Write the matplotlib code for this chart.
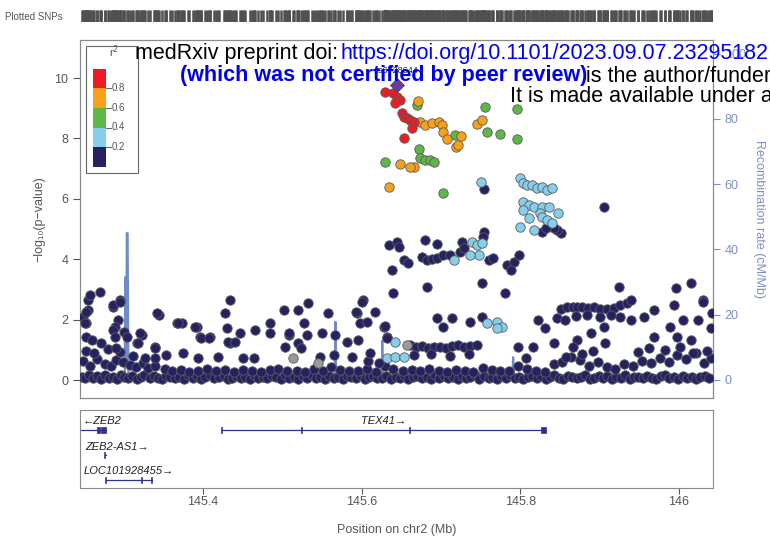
import matplotlib
matplotlib.use('Agg')
import matplotlib.pyplot as plt
from matplotlib.patches import Rectangle

plt.rcParams['font.family'] = ['Liberation Sans', 'DejaVu Sans']

# ---- data (position in Mb, -log10 p) ----
lead_pos, lead_logp, lead_name = 145.644, 9.78, 'rs6728644'

red_pos = [145.630, 145.640, 145.645, 145.648, 145.642, 145.651, 145.653, 145.657,
           145.661, 145.666, 145.664, 145.653]
red_logp = [9.55, 9.49, 9.38, 9.27, 9.16, 8.83, 8.72, 8.67, 8.61, 8.55, 8.33, 8.00]

orange_pos = [145.671, 145.674, 145.680, 145.689, 145.697, 145.701, 145.703, 145.708,
              145.719, 145.722, 145.725, 145.745, 145.752, 145.649, 145.666, 145.661,
              145.634]
orange_logp = [9.25, 8.55, 8.44, 8.50, 8.55, 8.44, 8.22, 7.97, 7.71, 7.78, 8.08, 8.48,
               8.61, 7.15, 7.04, 7.06, 6.40]

green_pos = [145.670, 145.756, 145.796, 145.758, 145.775, 145.796, 145.718, 145.672,
             145.674, 145.680, 145.686, 145.691, 145.630, 145.703]
green_logp = [9.11, 9.05, 8.96, 8.22, 8.15, 7.97, 8.11, 7.64, 7.34, 7.28, 7.28, 7.23,
              7.23, 6.18]

lblue_pos = [145.750, 145.800, 145.804, 145.809, 145.815, 145.821, 145.828, 145.834,
             145.840, 145.804, 145.811, 145.817, 145.828, 145.836, 145.804, 145.825,
             145.848, 145.811, 145.828, 145.834, 145.840, 145.800, 145.817,
             145.739, 145.745, 145.752, 145.748, 145.737, 145.716,
             145.642, 145.632, 145.642, 145.653, 145.758, 145.771, 145.777, 145.771]
lblue_logp = [6.57, 6.68, 6.51, 6.46, 6.46, 6.35, 6.40, 6.29, 6.35, 5.90, 5.79, 5.74,
              5.74, 5.74, 5.63, 5.52, 5.54, 5.35, 5.41, 5.30, 5.19, 5.08, 4.97,
              4.58, 4.47, 4.53, 4.14, 4.14, 3.97,
              1.27, 0.72, 0.77, 0.75, 1.88, 1.93, 1.76, 1.71]

grey_pos = [145.514, 145.657, 145.545]
grey_logp = [0.72, 1.16, 0.56]

# scattered navy SNPs (r2 < 0.2)
navy_pos = [145.754, 145.754, 145.753, 145.851, 145.846, 145.842, 145.828, 145.832,
            145.905, 145.634, 145.645, 145.647, 145.680, 145.695, 145.727, 145.653,
            145.659, 145.638, 145.676, 145.682, 145.689, 145.695, 145.703, 145.712,
            145.724, 145.729, 145.760, 145.766, 145.783, 145.792, 145.798, 145.788,
            145.752, 145.682, 145.640, 145.781, 145.924, 145.996, 146.015, 146.031,
            145.249, 145.255, 145.258, 145.270, 145.255, 145.253, 145.287, 145.295,
            145.293, 145.289, 145.323, 145.317, 145.344, 145.340, 145.367, 145.373,
            145.392, 145.396, 145.409, 145.428, 145.434, 145.430, 145.434, 145.447,
            145.466, 145.485, 145.485, 145.502, 145.504, 145.520, 145.508, 145.520,
            145.533, 145.527, 145.531, 145.550, 145.558, 145.567, 145.565, 145.594,
            145.602, 145.598, 145.607, 145.617, 145.596, 145.611, 145.628, 145.632,
            145.253, 145.251, 145.253, 145.260, 145.272, 145.287, 145.295, 145.287,
            145.300, 145.304, 145.289, 145.291, 145.321, 145.318, 145.340, 145.342,
            145.369, 145.390, 145.398, 145.407, 145.394, 145.375, 145.354, 145.340,
            145.419, 145.432, 145.441, 145.451, 145.464, 145.508, 145.601, 145.593,
            145.630, 145.695, 145.703, 145.714, 145.737, 145.752, 145.582, 145.632,
            145.523, 145.547, 145.588,
            145.926, 145.939, 145.956, 145.968, 145.989, 145.994, 146.005, 146.024,
            146.031, 146.042, 145.968, 145.998, 146.015, 146.040, 145.905, 145.907,
            145.889, 145.871, 145.867, 145.858, 145.843, 145.822, 145.831, 145.807,
            145.797, 145.816,
            145.851, 145.859, 145.866, 145.872, 145.878, 145.885, 145.893, 145.901,
            145.910, 145.918, 145.926, 145.935, 145.846, 145.856, 145.870, 145.884,
            145.900, 145.915, 145.940,
            145.661, 145.669, 145.676, 145.684, 145.691, 145.699, 145.707, 145.714,
            145.722, 145.729, 145.737, 145.745, 145.666, 145.688, 145.712, 145.735]
navy_logp = [6.31, 4.91, 4.75, 4.86, 4.97, 5.02, 4.91, 5.02,
             5.74, 4.47, 4.58, 4.41, 4.64, 4.50, 4.58, 3.97,
             3.86, 3.64, 4.08, 3.97, 4.00, 4.03, 4.14, 4.14,
             4.25, 4.36, 3.97, 4.03, 3.81, 3.92, 4.14, 3.64,
             3.20, 3.09, 2.87, 2.87, 3.09, 3.04, 3.20, 2.65,
             2.10, 2.65, 2.81, 2.92, 2.32, 1.88, 2.43, 2.65,
             1.99, 1.76, 1.49, 1.22, 2.15, 1.10, 1.88, 1.88,
             1.76, 1.43, 1.43, 2.21, 2.65, 1.71, 1.22, 1.55,
             1.66, 1.88, 1.55, 2.32, 1.10, 2.32, 1.49, 1.22,
             2.54, 1.88, 1.49, 1.55, 2.21, 1.49, 0.83, 2.21,
             2.65, 1.88, 1.93, 2.26, 1.32, 0.88, 1.76, 1.43,
             2.26, 1.88, 1.43, 1.32, 1.22, 2.48, 2.59, 1.66,
             1.60, 1.43, 1.43, 1.05, 1.55, 1.22, 1.05, 2.21,
             1.88, 1.76, 1.38, 1.38, 0.72, 0.88, 0.83, 0.72,
             0.77, 1.27, 1.27, 0.72, 0.72, 1.55, 2.59, 2.26,
             1.80, 2.04, 1.76, 2.04, 1.93, 2.10, 1.27, 1.38,
             1.05, 0.77, 0.77,
             2.10, 1.99, 2.10, 2.32, 1.76, 2.48, 1.99, 1.99,
             2.58, 2.21, 1.43, 1.43, 1.32, 1.71, 1.76, 1.22,
             1.55, 1.32, 1.10, 0.77, 1.22, 1.99, 1.71, 0.72,
             1.10, 1.10,
             2.36, 2.42, 2.43, 2.43, 2.42, 2.40, 2.42, 2.36,
             2.36, 2.40, 2.47, 2.55, 2.05, 2.00, 2.12, 2.15,
             2.10, 2.15, 2.65,
             1.16, 1.09, 1.12, 1.06, 1.09, 1.09, 1.06, 1.12,
             1.16, 1.09, 1.12, 1.16, 0.82, 0.85, 0.80, 0.86]

# dense band of weak SNPs along the bottom
base_pos = [145.247, 145.251, 145.256, 145.262, 145.266, 145.271, 145.277, 145.281,
            145.286, 145.292, 145.297, 145.301, 145.306, 145.311, 145.317, 145.322,
            145.326, 145.333, 145.338, 145.343, 145.349, 145.354, 145.359, 145.365,
            145.370, 145.376, 145.381, 145.387, 145.392, 145.398, 145.403, 145.409,
            145.414, 145.420, 145.426, 145.431, 145.437, 145.442, 145.448, 145.453,
            145.459, 145.464, 145.470, 145.476, 145.481, 145.487, 145.492, 145.498,
            145.503, 145.509, 145.515, 145.520, 145.526, 145.531, 145.537, 145.542,
            145.548, 145.554, 145.559, 145.565, 145.570, 145.576, 145.581, 145.587,
            145.593, 145.598, 145.604, 145.609, 145.615, 145.620, 145.626, 145.631,
            145.637, 145.643, 145.648, 145.654, 145.659, 145.665, 145.670, 145.676,
            145.682, 145.687, 145.693, 145.698, 145.704, 145.709, 145.715, 145.721,
            145.726, 145.732, 145.737, 145.743, 145.748, 145.754, 145.760, 145.765,
            145.771, 145.776, 145.782, 145.787, 145.793, 145.799, 145.804, 145.810,
            145.815, 145.821, 145.826, 145.832, 145.838, 145.843, 145.849, 145.854,
            145.860, 145.865, 145.871, 145.877, 145.882, 145.888, 145.893, 145.899,
            145.904, 145.910, 145.916, 145.921, 145.927, 145.932, 145.938, 145.943,
            145.949, 145.955, 145.960, 145.966, 145.971, 145.977, 145.982, 145.988,
            145.994, 145.999, 146.005, 146.010, 146.016, 146.021, 146.027, 146.033,
            146.038]
base_logp = [0.10, 0.05, 0.18, 0.08, 0.12, 0.03, 0.15, 0.07, 0.11, 0.04, 0.16, 0.09,
             0.06, 0.13, 0.02, 0.10, 0.17, 0.05, 0.12, 0.08, 0.03, 0.14, 0.09, 0.06,
             0.11, 0.02, 0.15, 0.07, 0.12, 0.04, 0.10, 0.16, 0.05, 0.09, 0.13, 0.03,
             0.08, 0.14, 0.06, 0.11, 0.02, 0.17, 0.07, 0.10, 0.05, 0.13, 0.09, 0.04,
             0.15, 0.06, 0.11, 0.03, 0.12, 0.08, 0.16, 0.05, 0.10, 0.02, 0.14, 0.07,
             0.11, 0.04, 0.13, 0.09, 0.06, 0.15, 0.03, 0.10, 0.12, 0.05, 0.08, 0.14,
             0.02, 0.11, 0.07, 0.16, 0.04, 0.09, 0.13, 0.06, 0.10, 0.03, 0.15, 0.08,
             0.12, 0.05, 0.11, 0.02, 0.14, 0.07, 0.09, 0.16, 0.04, 0.12, 0.06, 0.10,
             0.03, 0.13, 0.08, 0.15, 0.05, 0.11, 0.02, 0.09, 0.14, 0.06, 0.12, 0.04,
             0.10, 0.16, 0.07, 0.03, 0.13, 0.09, 0.05, 0.11, 0.15, 0.02, 0.08, 0.12,
             0.06, 0.14, 0.04, 0.10, 0.07, 0.16, 0.03, 0.11, 0.09, 0.05, 0.13, 0.08,
             0.02, 0.12, 0.15, 0.06, 0.10, 0.04, 0.14, 0.07, 0.11, 0.03, 0.09, 0.13,
             0.05]

mid_pos = [145.249, 145.258, 145.267, 145.276, 145.284, 145.291, 145.299, 145.308,
           145.315, 145.324, 145.331, 145.340, 145.352, 145.361, 145.372, 145.383,
           145.394, 145.405, 145.416, 145.428, 145.439, 145.450, 145.462, 145.473,
           145.484, 145.495, 145.506, 145.518, 145.529, 145.540, 145.551, 145.562,
           145.573, 145.584, 145.596, 145.607, 145.618, 145.629, 145.640, 145.652,
           145.663, 145.674, 145.685, 145.697, 145.708, 145.719, 145.730, 145.741,
           145.753, 145.764, 145.775, 145.786, 145.797, 145.808, 145.820, 145.831,
           145.842, 145.853, 145.864, 145.875, 145.887, 145.898, 145.909, 145.920,
           145.931, 145.942, 145.954, 145.965, 145.976, 145.987, 145.998, 146.009,
           146.021, 146.032, 146.041,
           145.252, 145.263, 145.280, 145.296, 145.312, 145.327, 145.878, 145.892,
           145.948, 145.962, 145.983, 146.002, 146.018, 146.036, 145.608, 145.622]
mid_logp = [0.62, 0.45, 0.70, 0.52, 0.48, 0.66, 0.58, 0.50, 0.44, 0.55, 0.40, 0.47,
            0.35, 0.30, 0.33, 0.28, 0.31, 0.36, 0.29, 0.32, 0.27, 0.34, 0.30, 0.28,
            0.33, 0.35, 0.29, 0.31, 0.27, 0.36, 0.30, 0.42, 0.33, 0.29, 0.31, 0.38,
            0.28, 0.45, 0.35, 0.30, 0.33, 0.29, 0.36, 0.31, 0.28, 0.34, 0.30, 0.27,
            0.40, 0.33, 0.29, 0.31, 0.45, 0.36, 0.30, 0.28, 0.52, 0.61, 0.75, 0.66,
            0.48, 0.58, 0.44, 0.36, 0.52, 0.47, 0.63, 0.55, 0.72, 0.60, 0.82, 0.68,
            0.90, 0.57, 0.74,
            0.95, 0.88, 1.02, 0.92, 0.81, 0.74, 0.86, 0.95, 0.92, 1.05, 0.98, 1.10,
            0.88, 0.96, 0.62, 0.55]

# recombination rate (cM/Mb)
rec_pos = [145.245, 145.262, 145.280, 145.295, 145.3015, 145.302, 145.3025, 145.3035,
           145.304, 145.305, 145.306, 145.330, 145.380, 145.430, 145.480, 145.530,
           145.566, 145.567, 145.568, 145.600, 145.6255, 145.626, 145.627, 145.660,
           145.720, 145.760, 145.790, 145.791, 145.792, 145.830, 145.880, 145.940,
           145.990, 146.043]
rec_rate = [0.5, 0.8, 0.4, 1.0, 1.5, 31.5, 4.0, 4.0, 45.0, 45.0, 1.0, 0.5, 0.3, 0.6,
            0.4, 0.5, 0.6, 17.8, 0.6, 0.4, 0.5, 12.0, 0.6, 0.4, 0.5, 0.3, 0.5, 7.0,
            0.5, 0.4, 0.6, 0.3, 0.5, 0.4]

# genes: name, start, end, strand, row, exon ticks, exon boxes
genes = [
    ('ZEB2', 145.140, 145.278, '-', 0, [], [(145.267, 145.270), (145.272, 145.278)]),
    ('TEX41', 145.424, 145.831, '+', 0, [145.424, 145.525, 145.661], [(145.826, 145.832)]),
    ('ZEB2-AS1', 145.2765, 145.2775, '+', 1, [145.277], []),
    ('LOC101928455', 145.278, 145.336, '+', 2, [145.278, 145.323, 145.336], []),
]

r2_colors = ['#262262', '#87CEEB', '#5DB848', '#F7A11A', '#ED1C24']
r2_ticks = [0.2, 0.4, 0.6, 0.8]

xmin, xmax = 145.245, 146.043

fig = plt.figure(figsize=(7.7, 5.42), dpi=100)
W, H = 770.0, 542.0


def box(x0, y0, x1, y1):
    # pixel box (top-left origin) -> figure fraction rect
    return [x0 / W, 1 - y1 / H, (x1 - x0) / W, (y1 - y0) / H]


# ---- rug of plotted SNPs ----
rug = fig.add_axes(box(80, 10, 713, 22))
all_pos = (base_pos + mid_pos + navy_pos + lblue_pos + green_pos + orange_pos +
           red_pos + grey_pos + [lead_pos])
rug.vlines(all_pos, 0, 1, color='#505050', lw=1.8)
rug.set_xlim(xmin, xmax)
rug.set_ylim(0, 1)
rug.axis('off')
fig.text(5 / W, 1 - 17 / H, 'Plotted SNPs', fontsize=7, color='#555555', va='center')

# ---- main association panel ----
ax = fig.add_axes(box(80, 40, 713, 398))
ax2 = ax.twinx()
ax.set_zorder(ax2.get_zorder() + 1)
ax.patch.set_visible(False)

ax2.plot(rec_pos, rec_rate, color='#6F8BCB', lw=1.6, zorder=1)
ax2.set_ylim(-5.52, 104.2)
ax2.set_yticks([0, 20, 40, 60, 80, 100])
ax2.tick_params(axis='y', colors='#7D8FC4', labelsize=9, length=5, width=0.8)
ax2.set_ylabel('Recombination rate (cM/Mb)', color='#7D8FC4', fontsize=9,
               rotation=-90, labelpad=14)

pt = dict(s=46, edgecolors='#5a5a5a', linewidths=0.6, zorder=3)
ax.scatter(base_pos, base_logp, c=r2_colors[0], **pt)
ax.scatter(mid_pos, mid_logp, c=r2_colors[0], **pt)
ax.scatter(navy_pos, navy_logp, c=r2_colors[0], **pt)
ax.scatter(grey_pos, grey_logp, c='#9a9a9a', **pt)
ax.scatter(lblue_pos, lblue_logp, c=r2_colors[1], **pt)
ax.scatter(green_pos, green_logp, c=r2_colors[2], **pt)
ax.scatter(orange_pos, orange_logp, c=r2_colors[3], **pt)
ax.scatter(red_pos, red_logp, c=r2_colors[4], **pt)
ax.scatter([lead_pos], [lead_logp], c='#6A3D9A', marker='D', s=50,
           edgecolors='#4a4a4a', linewidths=0.6, zorder=4)
ax.text(lead_pos, lead_logp + 0.32, lead_name, fontsize=6.5, ha='center',
        va='bottom', color='#222222', zorder=5)

ax.set_xlim(xmin, xmax)
ax.set_ylim(-0.596, 11.26)
ax.set_yticks([0, 2, 4, 6, 8, 10])
ax.set_xticks([])
ax.tick_params(axis='y', colors='#555555', labelsize=9, length=5, width=0.8)
ax.set_ylabel('\u2212log\u2081\u2080(p\u2212value)', color='#555555', fontsize=9, labelpad=6)
for a in (ax, ax2):
    for s in a.spines.values():
        s.set_color('#8a8a8a')

# r2 legend (axes fraction)
lx0, lx1 = (86 - 80) / 633, (138 - 80) / 633
ly0, ly1 = (398 - 173) / 358, (398 - 46) / 358
ax.add_patch(Rectangle((lx0, ly0), lx1 - lx0, ly1 - ly0, transform=ax.transAxes,
                       fill=True, facecolor='white', edgecolor='#666666', lw=0.8, zorder=6))
bx0, bw = (93.3 - 80) / 633, (106 - 93.3) / 633
seg_h = 19.6 / 358
by0 = (398 - 166.7) / 358
for i, col in enumerate(r2_colors):
    ax.add_patch(Rectangle((bx0, by0 + i * seg_h), bw, seg_h, transform=ax.transAxes,
                           facecolor=col, edgecolor='none', zorder=7))
for i, t in enumerate(r2_ticks):
    yy = by0 + (i + 1) * seg_h
    ax.plot([bx0 + bw, bx0 + bw + 5 / 633], [yy, yy], transform=ax.transAxes,
            color='#666666', lw=0.8, zorder=7)
    ax.text(bx0 + bw + 6 / 633, yy, '%.1f' % t, transform=ax.transAxes, fontsize=7,
            color='#555555', va='center', ha='left', zorder=7)
ax.text((114 - 80) / 633, (398 - 52) / 358, 'r$^2$', transform=ax.transAxes,
        fontsize=8, color='#555555', ha='center', va='center', zorder=7)

# ---- gene panel ----
gx = fig.add_axes(box(80, 410, 713, 488))
gx.set_xlim(xmin, xmax)
gx.set_ylim(2.32, -0.8)
gene_col = '#2E3192'
for name, start, end, strand, row, ticks, boxes in genes:
    gx.plot([start, end], [row, row], color=gene_col, lw=0.9)
    for t in ticks:
        gx.plot([t, t], [row - 0.1, row + 0.1], color=gene_col, lw=1.2)
    for b0, b1 in boxes:
        gx.add_patch(Rectangle((b0, row - 0.12), b1 - b0, 0.24, facecolor=gene_col,
                               edgecolor=gene_col, lw=0.5))
    if strand == '-':
        label = '\u2190' + name
    else:
        label = name + '\u2192'
    if name == 'ZEB2':
        gx.text(145.2485, row - 0.36, label, fontsize=8, style='italic',
                ha='left', va='center', color='#222222')
    elif name == 'ZEB2-AS1':
        gx.text(145.251, row - 0.34, label, fontsize=8, style='italic',
                ha='left', va='center', color='#222222')
    else:
        gx.text((start + end) / 2, row - 0.34, label, fontsize=8, style='italic',
                ha='center', va='center', color='#222222')

gx.set_yticks([])
gx.set_xticks([145.4, 145.6, 145.8, 146.0])
gx.set_xticklabels(['145.4', '145.6', '145.8', '146'])
gx.tick_params(axis='x', colors='#555555', labelsize=9, length=4, width=0.8, pad=2)
for s in gx.spines.values():
    s.set_color('#8a8a8a')
gx.set_xlabel('Position on chr2 (Mb)', color='#555555', fontsize=9, labelpad=11)

# ---- medRxiv watermark ----
fs = 15.5
fig.text(135 / W, 1 - 54 / H, 'medRxiv preprint doi: ', fontsize=fs, color='black',
         va='center', ha='left')
fig.text(340 / W, 1 - 54 / H, 'https://doi.org/10.1101/2023.09.07.23295182;',
         fontsize=fs, color='#0000EE', va='center', ha='left')
fig.text(180 / W, 1 - 76 / H, '(which was not certified by peer review)', fontsize=fs,
         color='#0000EE', fontweight='bold', va='center', ha='left')
fig.text(586 / W, 1 - 76 / H, 'is the author/funder', fontsize=fs, color='black',
         va='center', ha='left')
fig.text(510 / W, 1 - 97 / H, 'It is made available under a', fontsize=fs,
         color='black', va='center', ha='left')

fig.savefig('out.png', dpi=100)
